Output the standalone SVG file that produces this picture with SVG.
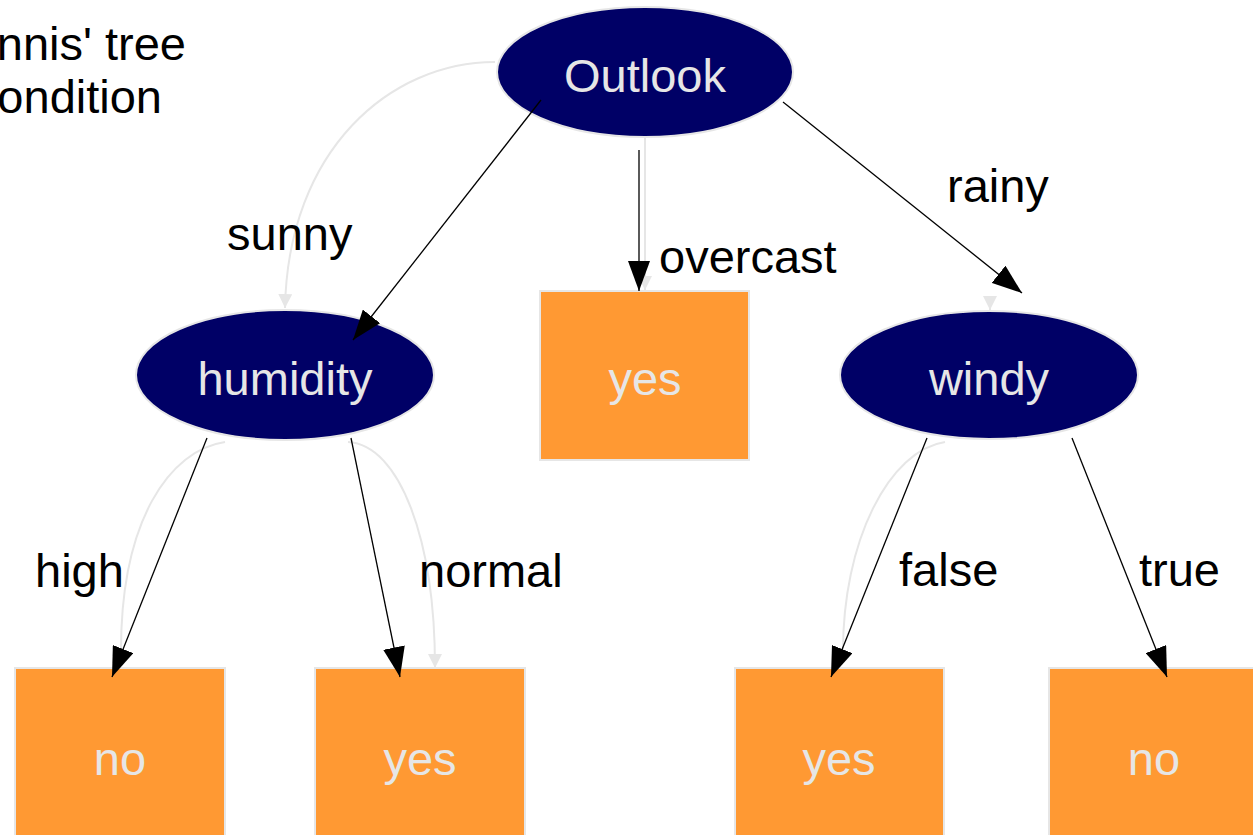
<svg xmlns="http://www.w3.org/2000/svg" width="1253" height="835" viewBox="0 0 1253 835">
<style>
text{font-family:"Liberation Sans",Arial,sans-serif;font-size:47px}
.dec ellipse{fill:#000066;stroke:#e6e6e6;stroke-width:2}
.leaf rect{fill:#ff9933;stroke:#e6e6e6;stroke-width:2}
.nt{fill:#e6e6e6;text-anchor:middle}
.lbl{fill:#000}
.blk{stroke:#000;stroke-width:1.3;fill:none;marker-end:url(#ab)}
.gry{stroke:#e6e6e6;stroke-width:2;fill:none}
</style>
<defs>
<marker id="ab" markerUnits="userSpaceOnUse" markerWidth="30" markerHeight="22" refX="30" refY="11" orient="auto" viewBox="0 0 30 22"><path d="M0,0L30,11L0,22z" fill="#000"/></marker>
<marker id="ag" markerUnits="userSpaceOnUse" markerWidth="14" markerHeight="14" refX="14" refY="7" orient="auto" viewBox="0 0 14 14"><path d="M0,0L14,7L0,14z" fill="#e6e6e6"/></marker>
</defs>
<rect width="1253" height="835" fill="#fff"/>
<g id="title">
<text class="lbl" x="186" y="60" text-anchor="end">nnis' tree</text>
<text class="lbl" x="162" y="113" text-anchor="end">ondition</text>
</g>
<g id="n_outlook" class="dec"><ellipse cx="645" cy="72" rx="148" ry="65"/><text class="nt" x="645" y="92">Outlook</text></g>
<g id="n_humidity" class="dec"><ellipse cx="285" cy="375" rx="149" ry="65"/><text class="nt" x="285" y="395">humidity</text></g>
<g id="n_windy" class="dec"><ellipse cx="989" cy="375" rx="149" ry="64"/><text class="nt" x="989" y="395">windy</text></g>
<g id="n_yes1" class="leaf"><rect x="540" y="291" width="209" height="169"/><text class="nt" x="645" y="395">yes</text></g>
<g id="n_no1" class="leaf"><rect x="15" y="668" width="210" height="170"/><text class="nt" x="120" y="775">no</text></g>
<g id="n_yes2" class="leaf"><rect x="315" y="668" width="210" height="170"/><text class="nt" x="420" y="775">yes</text></g>
<g id="n_yes3" class="leaf"><rect x="735" y="668" width="209" height="170"/><text class="nt" x="839" y="775">yes</text></g>
<g id="n_no2" class="leaf"><rect x="1049" y="668" width="210" height="170"/><text class="nt" x="1154" y="775">no</text></g>
<g id="connectors">
<path class="gry" d="M495,62 C390,62 288,150 285,308" marker-end="url(#ag)"/>
<path class="gry" d="M645,137 L645,290" marker-end="url(#ag)"/>
<path class="gry" d="M990,296 L990,310" marker-end="url(#ag)"/>
<path class="gry" d="M225,442 C170,450 120,520 121,655"/>
<path class="gry" d="M348,442 C400,445 435,540 435,668" marker-end="url(#ag)"/>
<path class="gry" d="M945,442 C890,450 842,540 843,655"/>
<path class="blk" d="M541,100 L353,340"/>
<path class="blk" d="M639,150 L639,291"/>
<path class="blk" d="M783,102 L1022,293"/>
<path class="blk" d="M207,438 L112,677"/>
<path class="blk" d="M351,438 L400,677"/>
<path class="blk" d="M927,438 L831,677"/>
<path class="blk" d="M1072,438 L1167,677"/>
<text class="lbl" x="227" y="250">sunny</text>
<text class="lbl" x="659" y="273">overcast</text>
<text class="lbl" x="947" y="202">rainy</text>
<text class="lbl" x="35" y="587">high</text>
<text class="lbl" x="419" y="587">normal</text>
<text class="lbl" x="899" y="586">false</text>
<text class="lbl" x="1139" y="586">true</text>
</g>
</svg>
